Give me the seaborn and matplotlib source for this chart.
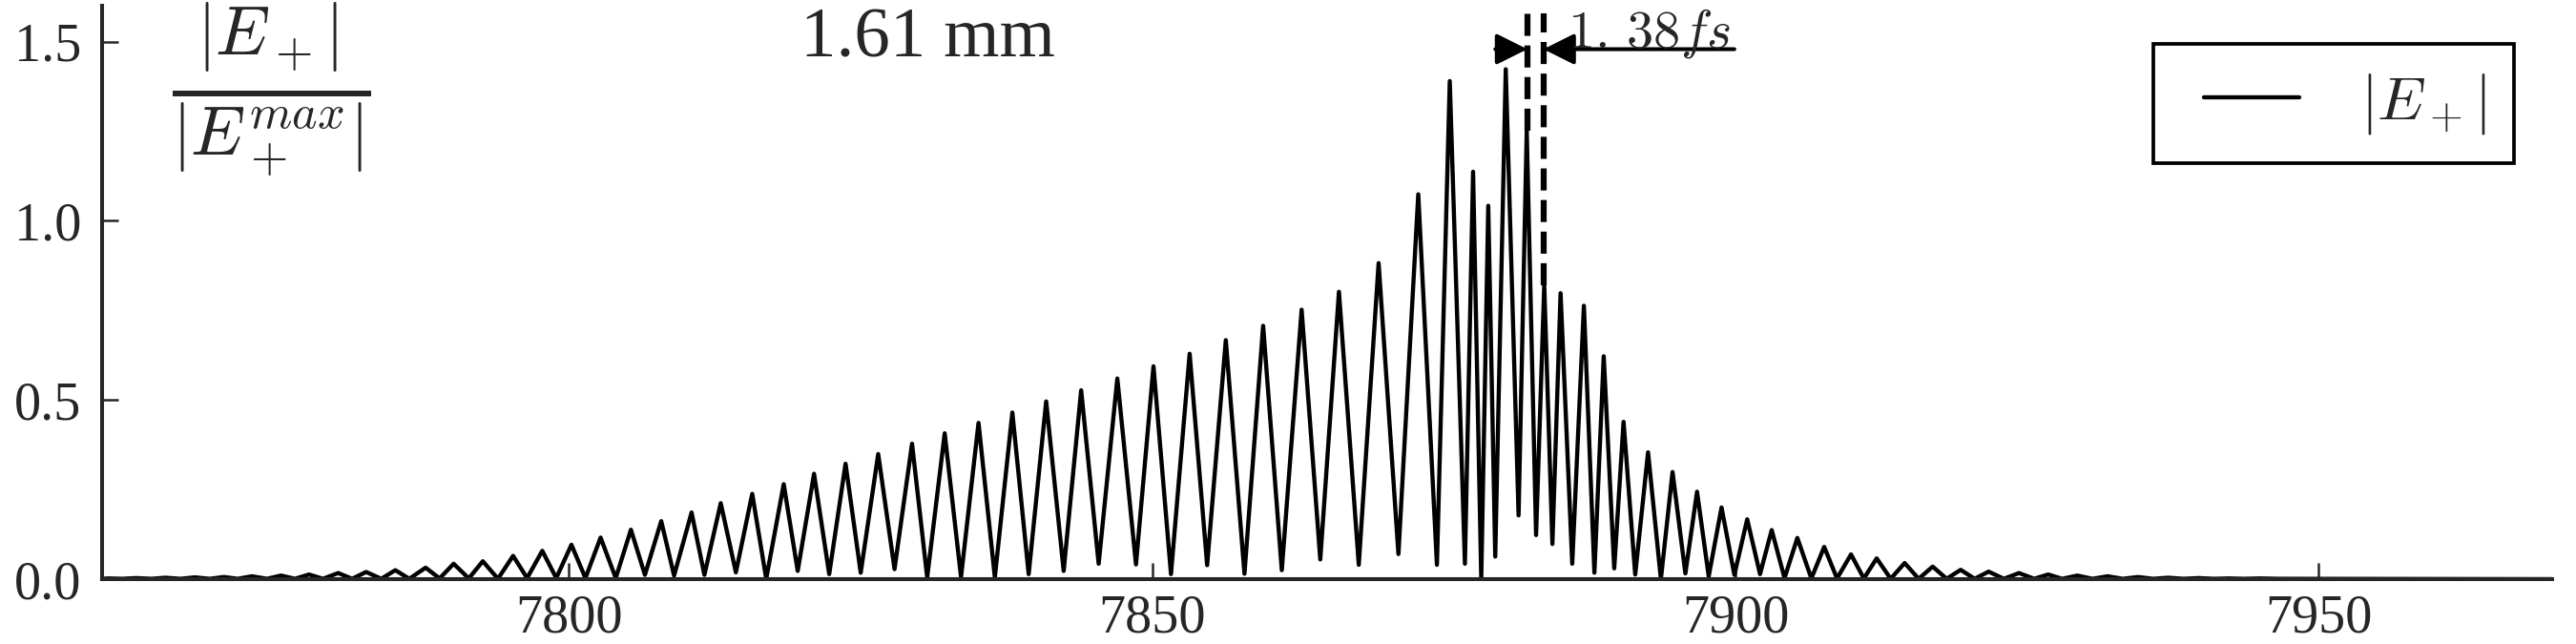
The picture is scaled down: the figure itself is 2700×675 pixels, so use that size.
import numpy as np
import pandas as pd
import matplotlib
matplotlib.use('Agg')
import matplotlib.pyplot as plt
import seaborn as sns
from matplotlib.legend_handler import HandlerLine2D

# peaks of |E+| / |E+max| (time axis, fs)
peak_t = [7760.5, 7762.9, 7765.4, 7767.9, 7770.4, 7772.8, 7775.3, 7777.7, 7780.2, 7782.6, 7785.1, 7787.7, 7790.1, 7792.6,
          7795.2, 7797.7, 7800.2, 7802.7, 7805.3, 7807.9, 7810.5, 7813.0, 7815.7, 7818.4, 7821.0, 7823.7,
          7826.5, 7829.4, 7832.2, 7835.1, 7838.0, 7840.9, 7843.9, 7847.0, 7850.1, 7853.2, 7856.3,
          7859.5, 7862.8, 7866.0, 7869.4, 7872.8, 7875.5, 7877.5, 7878.8, 7880.3, 7882.1, 7883.6, 7885.0,
          7887.0, 7888.7, 7890.4, 7892.5, 7894.6, 7896.7,
          7898.8, 7901.0, 7903.1, 7905.3, 7907.6, 7909.9, 7912.1, 7914.5, 7916.9, 7919.3, 7921.7, 7924.3,
          7926.8, 7929.3, 7931.9, 7934.5, 7937.1, 7939.7, 7942.3, 7945.0]
peak_val = [0.002, 0.003, 0.004, 0.005, 0.006, 0.008, 0.010, 0.013, 0.017, 0.020, 0.025, 0.032, 0.043, 0.050,
            0.065, 0.079, 0.096, 0.116, 0.138, 0.162, 0.186, 0.212, 0.238, 0.265, 0.294, 0.322,
            0.349, 0.378, 0.407, 0.436, 0.465, 0.496, 0.527, 0.560, 0.594, 0.629, 0.667,
            0.707, 0.752, 0.802, 0.882, 1.074, 1.390, 1.137, 1.042, 1.423, 1.252, 0.821, 0.798,
            0.763, 0.622, 0.439, 0.354, 0.299, 0.244,
            0.200, 0.167, 0.137, 0.115, 0.090, 0.069, 0.058, 0.045, 0.035, 0.026, 0.021, 0.017,
            0.013, 0.010, 0.008, 0.006, 0.004, 0.003, 0.002, 0.002]

# troughs between the peaks (plus both ends of the window)
trough_t = [7760.0, 7761.7, 7764.2, 7766.7, 7769.2, 7771.6, 7774.1, 7776.5, 7778.9, 7781.4, 7783.9, 7786.3, 7788.9, 7791.4, 7793.9,
            7796.4, 7798.9, 7801.4, 7804.0, 7806.5, 7809.0, 7811.6, 7814.3, 7816.9, 7819.6, 7822.3, 7825.0,
            7827.9, 7830.7, 7833.6, 7836.5, 7839.4, 7842.4, 7845.4, 7848.6, 7851.6, 7854.7, 7857.9,
            7861.1, 7864.4, 7867.7, 7871.1, 7874.4, 7876.8, 7878.2, 7879.4, 7881.4, 7882.9, 7884.3, 7886.0,
            7887.9, 7889.6, 7891.4, 7893.6, 7895.7, 7897.7,
            7899.9, 7902.1, 7904.2, 7906.5, 7908.7, 7911.0, 7913.3, 7915.7, 7918.1, 7920.5, 7923.0, 7925.6,
            7928.0, 7930.6, 7933.2, 7935.8, 7938.4, 7941.0, 7943.6, 7946.5, 7970.0]
trough_val = [0.001, 0.001, 0.001, 0.001, 0.001, 0.001, 0.001, 0.001, 0.001, 0.001, 0.001, 0.001, 0.002, 0.002, 0.001,
              0.003, 0.003, 0.003, 0.003, 0.012, 0.010, 0.012, 0.019, 0.001, 0.023, 0.014, 0.018,
              0.028, 0.005, 0.006, 0.005, 0.014, 0.023, 0.043, 0.041, 0.014, 0.039, 0.015,
              0.025, 0.055, 0.040, 0.070, 0.040, 0.043, 0.0, 0.063, 0.178, 0.123, 0.098, 0.043,
              0.018, 0.030, 0.013, 0.0, 0.016, 0.008,
              0.012, 0.014, 0.003, 0.002, 0.002, 0.002, 0.001, 0.001, 0.001, 0.001, 0.001, 0.001,
              0.001, 0.001, 0.001, 0.001, 0.001, 0.001, 0.001, 0.001, 0.0]

# pulse-spacing marker (dashed lines at two neighbouring peaks)
mark_t = [7882.15, 7883.53]
mark_low = [1.252, 0.821]
mark_top = 1.58
arrow_y = 1.479
arrow_left_start = 7879.4
arrow_right_start = 7899.9

df = pd.DataFrame({'t': peak_t + trough_t, 'E': peak_val + trough_val}).sort_values('t')

sns.set_style('ticks')
plt.rcParams['font.family'] = 'serif'
plt.rcParams['font.serif'] = ['Liberation Serif', 'DejaVu Serif']
plt.rcParams['mathtext.fontset'] = 'cm'

fig = plt.figure(figsize=(12, 3), dpi=225)
ax = fig.add_axes([0.0398, 0.1007, 0.9509, 0.8903])

sns.lineplot(data=df, x='t', y='E', ax=ax, color='black', linewidth=1.4,
             estimator=None, sort=True, label=r'$|E_+|$')
ax.lines[0].set_solid_joinstyle('round')

ax.vlines(mark_t, mark_low, mark_top, colors='black', linestyles='--', linewidth=2)
ax.annotate('', xy=(mark_t[0], arrow_y), xytext=(arrow_left_start, arrow_y),
            arrowprops=dict(arrowstyle='-|>', color='black', lw=1.3, mutation_scale=22,
                            shrinkA=0, shrinkB=0))
ax.annotate('', xy=(mark_t[1], arrow_y), xytext=(arrow_right_start, arrow_y),
            arrowprops=dict(arrowstyle='-|>', color='black', lw=1.3, mutation_scale=22,
                            shrinkA=0, shrinkB=0))
ax.text(7885.6, 1.485, r'$1.\,38fs$', fontsize=18, va='baseline', ha='left')

ax.text(7819.8, 1.457, '1.61 mm', fontsize=24, va='baseline', ha='left')
ax.text(7774.4, 1.364, r'$\frac{|E_+|}{|E_+^{max}|}$', fontsize=33, va='center', ha='center')

ax.set_xlim(7760, 7970)
ax.set_ylim(0, 1.6)
ax.set_xticks([7800, 7850, 7900, 7950])
ax.set_yticks([0.0, 0.5, 1.0, 1.5])
ax.set_yticklabels(['0.0', '0.5', '1.0', '1.5'])
ax.set_xlabel('')
ax.set_ylabel('')
ax.tick_params(direction='in', length=5.5, width=0.8, labelsize=18, top=False, right=False)
ax.tick_params(axis='y', pad=7)
ax.tick_params(axis='x', pad=5)
sns.despine(ax=ax)
for s in ['left', 'bottom']:
    ax.spines[s].set_linewidth(1.3)

handles, labels = ax.get_legend_handles_labels()
leg = ax.legend(handles, labels, loc='upper right', fontsize=20.5, frameon=True, fancybox=False,
                edgecolor='black', framealpha=1, handlelength=1.94, handletextpad=1.0,
                borderpad=0.45, borderaxespad=0.62,
                handler_map={handles[0]: HandlerLine2D(xpad=0.38)})
leg.get_frame().set_linewidth(1.2)

fig.savefig('out.png', dpi=225)
